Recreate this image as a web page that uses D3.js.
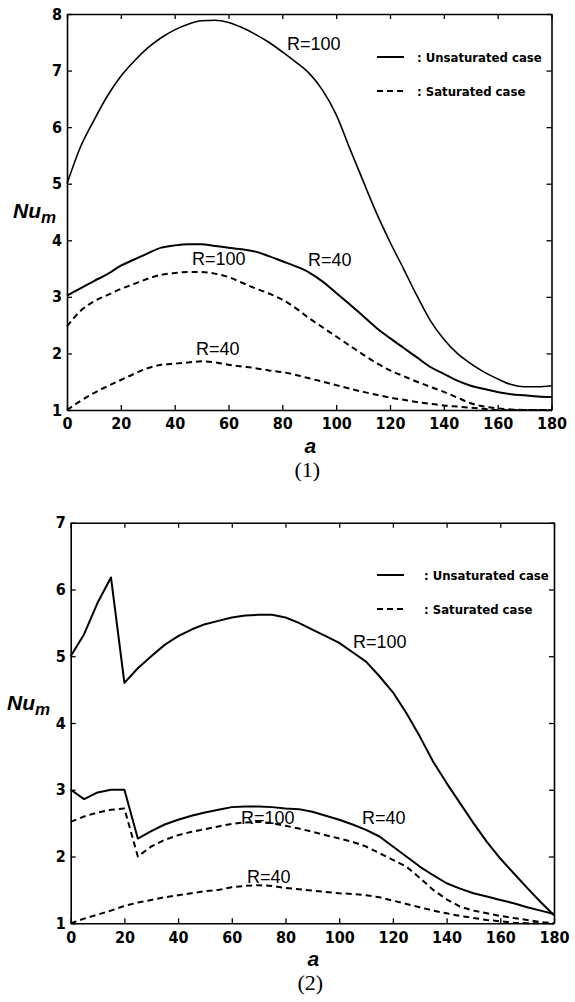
<!DOCTYPE html>
<html>
<head>
<meta charset="utf-8">
<script src="https://cdn.jsdelivr.net/npm/d3@7"></script>
<style>
  html, body { margin: 0; padding: 0; background: #fff; }
  svg { display: block; }
  .tick text { font-family: "Liberation Sans Narrow", "DejaVu Sans Condensed", "Liberation Sans", sans-serif; font-weight: bold; font-size: 16px; fill: #000; }
</style>
</head>
<body>
<svg id="chart" width="575" height="1002"></svg>
<script>
// Inclination angle a (degrees), shared by every curve
const angles = [0,5,10,15,20,25,30,35,40,45,50,55,60,65,70,75,80,85,90,95,100,105,110,115,120,125,130,135,140,145,150,155,160,165,170,175,180];

// Panel (1): mean Nusselt number
const p1UnsatR100 = [5.0,5.65,6.12,6.55,6.9,7.17,7.4,7.58,7.72,7.82,7.88,7.89,7.85,7.76,7.64,7.5,7.33,7.15,6.95,6.65,6.22,5.63,5.05,4.48,3.97,3.5,3.02,2.58,2.25,2.0,1.82,1.67,1.55,1.45,1.41,1.41,1.43];
const p1UnsatR40  = [3.02,3.15,3.28,3.4,3.55,3.66,3.77,3.87,3.91,3.93,3.93,3.9,3.87,3.84,3.8,3.72,3.63,3.54,3.43,3.27,3.07,2.87,2.66,2.45,2.27,2.1,1.93,1.76,1.64,1.52,1.43,1.37,1.32,1.28,1.26,1.24,1.23];
const p1SatR100   = [2.48,2.75,2.92,3.03,3.14,3.23,3.32,3.39,3.42,3.44,3.44,3.41,3.35,3.25,3.15,3.06,2.95,2.8,2.62,2.46,2.3,2.14,1.98,1.83,1.7,1.6,1.5,1.41,1.32,1.22,1.12,1.06,1.03,1.01,1.0,1.0,1.0];
const p1SatR40    = [1.0,1.16,1.3,1.42,1.53,1.64,1.74,1.8,1.82,1.84,1.86,1.84,1.8,1.77,1.74,1.7,1.67,1.62,1.56,1.5,1.44,1.38,1.32,1.27,1.22,1.18,1.14,1.11,1.08,1.06,1.04,1.02,1.0,1.0,1.0,1.0,1.0];

// Panel (2): mean Nusselt number
const p2UnsatR100 = [5.0,5.33,5.8,6.18,4.6,4.82,5.0,5.17,5.3,5.4,5.48,5.53,5.58,5.61,5.62,5.62,5.58,5.5,5.4,5.3,5.2,5.06,4.92,4.7,4.46,4.15,3.8,3.42,3.1,2.8,2.5,2.22,1.97,1.75,1.53,1.32,1.12];
const p2UnsatR40  = [3.0,2.86,2.96,3.0,3.0,2.27,2.38,2.48,2.55,2.61,2.66,2.7,2.74,2.75,2.75,2.74,2.72,2.71,2.67,2.61,2.55,2.48,2.4,2.3,2.15,2.0,1.85,1.72,1.6,1.52,1.45,1.4,1.35,1.3,1.24,1.19,1.14];
const p2SatR100   = [2.52,2.6,2.66,2.7,2.72,2.0,2.15,2.25,2.32,2.37,2.41,2.45,2.49,2.51,2.52,2.5,2.46,2.42,2.37,2.32,2.27,2.22,2.15,2.05,1.95,1.85,1.68,1.5,1.36,1.25,1.19,1.15,1.11,1.08,1.05,1.02,1.0];
const p2SatR40    = [1.0,1.07,1.13,1.19,1.26,1.31,1.35,1.39,1.42,1.45,1.48,1.5,1.54,1.56,1.57,1.56,1.53,1.51,1.49,1.47,1.45,1.44,1.42,1.39,1.34,1.29,1.24,1.19,1.15,1.11,1.08,1.05,1.03,1.01,1.0,1.0,1.0];

// Axis ticks
const xTicks = [0,20,40,60,80,100,120,140,160,180];
const p1YTicks = [1,2,3,4,5,6,7,8];
const p2YTicks = [1,2,3,4,5,6,7];

const legendLabels = [": Unsaturated case", ": Saturated case"];

const svg = d3.select("#chart");
const narrow = '"Liberation Sans Narrow", "DejaVu Sans Condensed", "Liberation Sans", sans-serif';
const sans = '"Liberation Sans", Arial, sans-serif';

function drawPanel(cfg) {
  const g = svg.append("g");
  const x = d3.scaleLinear().domain([0, 180]).range([cfg.left, cfg.right]);
  const y = d3.scaleLinear().domain(cfg.yDomain).range([cfg.bottom, cfg.top]);

  // tick marks point inward on all four sides
  g.append("g").attr("transform", `translate(0,${cfg.bottom})`)
    .call(d3.axisBottom(x).tickValues(xTicks).tickSize(-5).tickSizeOuter(0).tickPadding(8).tickFormat(d3.format("d")));
  g.append("g").attr("transform", `translate(0,${cfg.top})`)
    .call(d3.axisTop(x).tickValues(xTicks).tickSize(-5).tickSizeOuter(0).tickFormat(""));
  g.append("g").attr("transform", `translate(${cfg.left},0)`)
    .call(d3.axisLeft(y).tickValues(cfg.yTicks).tickSize(-5).tickSizeOuter(0).tickPadding(5).tickFormat(d3.format("d")));
  g.append("g").attr("transform", `translate(${cfg.right},0)`)
    .call(d3.axisRight(y).tickValues(cfg.yTicks).tickSize(-5).tickSizeOuter(0).tickFormat(""));
  g.selectAll(".domain").attr("stroke", "#000").attr("stroke-width", 1.6);
  g.selectAll(".tick line").attr("stroke", "#000").attr("stroke-width", 1.3);

  const line = d3.line()
    .x((d, i) => x(angles[i]))
    .y(d => y(d))
    .curve(cfg.curve);

  cfg.series.forEach(s => {
    g.append("path")
      .datum(s.values)
      .attr("d", line)
      .attr("fill", "none")
      .attr("stroke", "#000")
      .attr("stroke-width", s.width)
      .attr("stroke-dasharray", s.dashed ? "6,4" : null)
      .attr("stroke-linejoin", "round");
  });

  // curve labels
  cfg.labels.forEach(l => {
    g.append("text")
      .attr("x", l.x).attr("y", l.y)
      .attr("font-family", sans)
      .attr("font-size", 18)
      .attr("fill", "#000")
      .text(l.text);
  });

  // legend
  [false, true].forEach((dashed, i) => {
    const ly = cfg.legendY + i * 34;
    g.append("line")
      .attr("x1", 377).attr("x2", 404)
      .attr("y1", ly).attr("y2", ly)
      .attr("stroke", "#000").attr("stroke-width", 2)
      .attr("stroke-dasharray", dashed ? "6,4" : null);
    g.append("text")
      .attr("x", cfg.legendX).attr("y", ly + 5)
      .attr("font-family", narrow)
      .attr("font-weight", "bold")
      .attr("font-size", 13)
      .attr("fill", "#000")
      .text(legendLabels[i]);
  });

  // y-axis title Nu_m
  const yt = g.append("text")
    .attr("x", cfg.yTitleX).attr("y", cfg.yTitleY)
    .attr("font-family", sans)
    .attr("font-weight", "bold")
    .attr("font-style", "italic")
    .attr("font-size", 21)
    .attr("fill", "#000");
  yt.append("tspan").text("Nu");
  yt.append("tspan").attr("dy", 5).attr("font-size", 17).text("m");

  // x-axis title
  g.append("text")
    .attr("x", (cfg.left + cfg.right) / 2 + 1).attr("y", cfg.bottom + 43)
    .attr("text-anchor", "middle")
    .attr("font-family", sans)
    .attr("font-weight", "bold")
    .attr("font-style", "italic")
    .attr("font-size", 21)
    .attr("fill", "#000")
    .text("a");

  // panel caption
  g.append("text")
    .attr("x", (cfg.left + cfg.right) / 2 - 2).attr("y", cfg.bottom + 67)
    .attr("text-anchor", "middle")
    .attr("font-family", '"Liberation Serif", "Times New Roman", serif')
    .attr("font-size", 22)
    .attr("fill", "#000")
    .text(cfg.caption);
}

drawPanel({
  left: 67, right: 551.5, top: 14, bottom: 410,
  yDomain: [1, 8], yTicks: p1YTicks,
  curve: d3.curveMonotoneX,
  series: [
    { values: p1UnsatR100, dashed: false, width: 1.6 },
    { values: p1UnsatR40,  dashed: false, width: 2 },
    { values: p1SatR100,   dashed: true,  width: 2 },
    { values: p1SatR40,    dashed: true,  width: 2 }
  ],
  labels: [
    { text: "R=100", x: 287, y: 50 },
    { text: "R=40",  x: 308, y: 266 },
    { text: "R=100", x: 192, y: 265 },
    { text: "R=40",  x: 196, y: 355 }
  ],
  legendY: 57, legendX: 417,
  yTitleX: 13, yTitleY: 218,
  caption: "(1)"
});

drawPanel({
  left: 70.7, right: 554, top: 522.7, bottom: 923.3,
  yDomain: [1, 7], yTicks: p2YTicks,
  curve: d3.curveLinear,
  series: [
    { values: p2UnsatR100, dashed: false, width: 2 },
    { values: p2UnsatR40,  dashed: false, width: 2 },
    { values: p2SatR100,   dashed: true,  width: 2 },
    { values: p2SatR40,    dashed: true,  width: 2 }
  ],
  labels: [
    { text: "R=100", x: 353, y: 648 },
    { text: "R=40",  x: 362, y: 824 },
    { text: "R=100", x: 241, y: 824 },
    { text: "R=40",  x: 247, y: 883 }
  ],
  legendY: 575, legendX: 424,
  yTitleX: 7, yTitleY: 710,
  caption: "(2)"
});
</script>
</body>
</html>
